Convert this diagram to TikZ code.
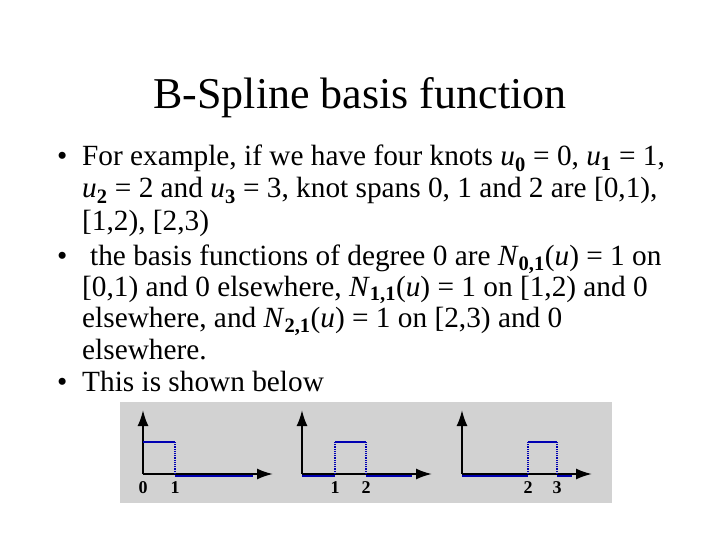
\documentclass[tikz,border=0pt]{standalone}
\usepackage{fontspec}
\usetikzlibrary{arrows.meta}
\setmainfont{Liberation Serif}
\newcommand{\sbs}[1]{\textsubscript{#1}}
\begin{document}
\begin{tikzpicture}[x=1pt,y=-1pt,
  txt/.style={anchor=base west,inner sep=0pt,font=\fontsize{29.3}{29.3}\selectfont},
  ax/.style={line width=2pt,-{Latex[length=16pt,width=11pt]}},
  bas/.style={blue!70!black,line width=1.2pt},
  dot/.style={blue!70!black,line width=1.2pt,densely dotted},
  lab/.style={font=\bfseries\fontsize{18}{18}\selectfont,inner sep=0pt}]
\useasboundingbox (0,0) rectangle (720,540);
\fill[white] (0,0) rectangle (720,540);
\node[anchor=base,inner sep=0pt,font=\fontsize{44}{44}\selectfont] (title) at (360,109) {B-Spline basis function};
\node[txt] (b1) at (57,166) {•};
\node[txt] (l1) at (82,166) {For example, if we have four knots \textit{u}\sbs{\textbf{0}} = 0, \textit{u}\sbs{\textbf{1}} = 1,};
\node[txt] (l2) at (82,198) {\textit{u}\sbs{\textbf{2}} = 2 and \textit{u}\sbs{\textbf{3}} = 3, knot spans 0, 1 and 2 are [0,1),};
\node[txt] (l3) at (82,230) {[1,2), [2,3)};
\node[txt] (b2) at (57,265) {•};
\node[txt] (l4) at (90,265) {the basis functions of degree 0 are \textit{N}\sbs{\textbf{0,1}}(\textit{u}) = 1 on};
\node[txt] (l5) at (82,296) {[0,1) and 0 elsewhere, \textit{N}\sbs{\textbf{1,1}}(\textit{u}) = 1 on [1,2) and 0};
\node[txt] (l6) at (82,327) {elsewhere, and \textit{N}\sbs{\textbf{2,1}}(\textit{u}) = 1 on [2,3) and 0};
\node[txt] (l7) at (82,359) {elsewhere.};
\node[txt] (b3) at (57,391) {•};
\node[txt] (l8) at (82,391) {This is shown below};
% image
\fill[gray!35] (120,402) rectangle (612,503);
\foreach \ox/\a/\b/\la/\lb in {143/0/32/0/1, 302/33/64/1/2, 462/66/95/2/3}{
  \begin{scope}[shift={(\ox,0)}]
  \draw[ax] (0,474) -- (0,410);
  \draw[ax] (0,474) -- (130,474);
  \draw[bas] (\a,442) -- (\b,442);
  \ifnum\a>0 \draw[dot] (\a,474) -- (\a,442);\fi
  \draw[dot] (\b,474) -- (\b,442);
  \ifnum\a>0 \draw[bas,line width=2.5pt] (0,476) -- (\a,476);\fi
  \draw[bas,line width=2.5pt] (\b,476) -- (110,476);
  \node[lab] at (\a,488) {\la};
  \node[lab] at (\b,488) {\lb};
  \end{scope}}
\end{tikzpicture}
\end{document}
